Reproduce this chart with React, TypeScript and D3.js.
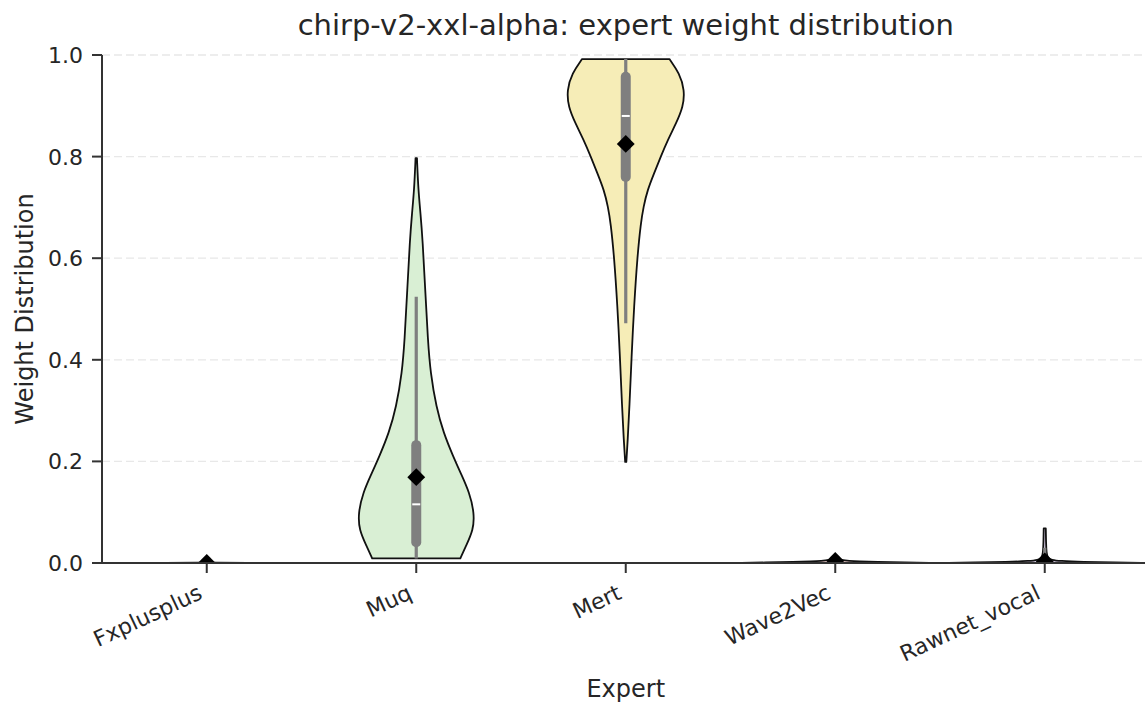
import React from 'react';
import * as d3 from 'd3';

const TITLE = 'chirp-v2-xxl-alpha: expert weight distribution';
const X_LABEL = 'Expert';
const Y_LABEL = 'Weight Distribution';
const EXPERTS = ['Fxplusplus', 'Muq', 'Mert', 'Wave2Vec', 'Rawnet_vocal'];
const Y_TICKS = [0, 0.2, 0.4, 0.6, 0.8, 1.0];
const FILLS = ['#cfe0f3', '#d9efd4', '#f6edb7', '#f8d5d3', '#e2d7ef'];

// violin outlines: [value, relative half-width]
const FXPLUSPLUS_PROFILE: [number, number][] = [
  [0, 1.7], [0.0004, 0.6], [0.0008, 0.1], [0.001, 0],
];
const MUQ_PROFILE: [number, number][] = [
  [0.009, 0.76], [0.032, 0.85], [0.065, 0.985], [0.098, 1.0], [0.138, 0.92],
  [0.177, 0.765], [0.209, 0.64], [0.256, 0.47], [0.307, 0.345], [0.374, 0.245],
  [0.439, 0.2], [0.537, 0.155], [0.636, 0.11], [0.69, 0.072], [0.734, 0.036], [0.797, 0.012],
];
const MERT_PROFILE: [number, number][] = [
  [0.199, 0.01], [0.242, 0.034], [0.308, 0.064], [0.406, 0.1], [0.505, 0.143],
  [0.603, 0.2], [0.669, 0.259], [0.701, 0.305], [0.734, 0.374], [0.767, 0.488],
  [0.8, 0.603], [0.833, 0.725], [0.866, 0.87], [0.898, 0.99], [0.931, 1.015],
  [0.964, 0.925], [0.992, 0.753],
];
const WAVE2VEC_PROFILE: [number, number][] = [
  [0, 1.7], [0.001, 1.2], [0.002, 0.7], [0.003, 0.4], [0.004, 0.24],
  [0.006, 0.1], [0.009, 0.03], [0.012, 0.005],
];
const RAWNET_PROFILE: [number, number][] = [
  [0, 1.75], [0.001, 1.2], [0.002, 0.65], [0.004, 0.25], [0.006, 0.12],
  [0.01, 0.05], [0.02, 0.03], [0.04, 0.022], [0.068, 0.018],
];
const PROFILES = [FXPLUSPLUS_PROFILE, MUQ_PROFILE, MERT_PROFILE, WAVE2VEC_PROFILE, RAWNET_PROFILE];

const WHISKER_LOW = [0, 0.009, 0.472, 0, 0];
const Q1 = [0, 0.041, 0.76, 0, 0];
const MEDIAN = [0, 0.1155, 0.88, 0.001, 0.001];
const Q3 = [0, 0.232, 0.957, 0.002, 0.002];
const WHISKER_HIGH = [0, 0.524, 0.992, 0.006, 0.03];
const MEAN = [0, 0.169, 0.825, 0.004, 0.003];

const W = 1145;
const H = 706;
const M = { left: 102, top: 55, bottom: 563 };
const STEP = 209.5;
const FONT = 'DejaVu Sans, sans-serif';
const TEXT = '#262626';

export default function App() {
  const x = d3.scaleBand<string>().domain(EXPERTS).range([M.left, M.left + STEP * EXPERTS.length]).padding(0);
  const y = d3.scaleLinear().domain([0, 1]).range([M.bottom, M.top]);
  const wScale = d3.scaleLinear().domain([0, 1]).range([0, x.bandwidth() * 0.277]);
  const cx = (e: string) => (x(e) as number) + x.bandwidth() / 2;

  const violinPath = (i: number) => {
    const c = cx(EXPERTS[i]);
    return d3
      .area<[number, number]>()
      .curve(d3.curveBasis)
      .y((d) => y(d[0]))
      .x0((d) => c - wScale(d[1]))
      .x1((d) => c + wScale(d[1]))(PROFILES[i]) as string;
  };

  const diamond = d3.symbol().type(d3.symbolSquare).size(160)() as string;

  return (
    <svg width={W} height={H} style={{ position: 'absolute', left: 0, top: 0, background: '#fff' }}
      fontFamily={FONT}>
      <defs>
        <clipPath id="plotclip">
          <rect x={M.left} y={M.top - 2} width={W - M.left} height={M.bottom - M.top + 2} />
        </clipPath>
      </defs>
      <rect x={0} y={0} width={W} height={H} fill="#fff" />
      {/* grid */}
      {Y_TICKS.filter((t) => t > 0).map((t) => (
        <line key={'g' + t} x1={M.left} x2={W} y1={y(t)} y2={y(t)} stroke="#e8e8e8"
          strokeWidth={1.3} strokeDasharray="8,4" />
      ))}
      <g clipPath="url(#plotclip)">
        {EXPERTS.map((e, i) => (
          <path key={'v' + e} d={violinPath(i)} fill={FILLS[i]} stroke="#111" strokeWidth={1.8}
            strokeLinejoin="round" />
        ))}
        {EXPERTS.map((e, i) => {
          const c = cx(e);
          return (
            <g key={'b' + e}>
              <line x1={c} x2={c} y1={y(WHISKER_LOW[i])} y2={y(WHISKER_HIGH[i])} stroke="#7f7f7f"
                strokeWidth={3.2} />
              {Q3[i] > Q1[i] && (
                <line x1={c} x2={c} y1={y(Q1[i])} y2={y(Q3[i])} stroke="#7f7f7f" strokeWidth={10}
                  strokeLinecap="round" />
              )}
              {Q3[i] - Q1[i] > 0.01 && (
                <line x1={c - 4} x2={c + 4} y1={y(MEDIAN[i])} y2={y(MEDIAN[i])} stroke="#fff"
                  strokeWidth={2} />
              )}
              <path d={diamond} transform={`translate(${c},${y(MEAN[i])}) rotate(45)`} fill="#000" />
            </g>
          );
        })}
      </g>
      {/* spines */}
      <line x1={M.left} x2={M.left} y1={M.top} y2={M.bottom} stroke="#333" strokeWidth={2} />
      <line x1={M.left} x2={W} y1={M.bottom} y2={M.bottom} stroke="#333" strokeWidth={2} />
      {/* y ticks */}
      {Y_TICKS.map((t) => (
        <g key={'yt' + t}>
          <line x1={M.left - 10} x2={M.left} y1={y(t)} y2={y(t)} stroke="#333" strokeWidth={2} />
          <text x={M.left - 19} y={y(t)} dy="0.36em" textAnchor="end" fontSize={22} fill={TEXT}>
            {d3.format('.1f')(t)}
          </text>
        </g>
      ))}
      {/* x ticks */}
      {EXPERTS.map((e) => {
        const c = cx(e);
        return (
          <g key={'xt' + e}>
            <line x1={c} x2={c} y1={M.bottom} y2={M.bottom + 10} stroke="#333" strokeWidth={2} />
            <text transform={`translate(${c - 3},${M.bottom + 35}) rotate(-25)`} textAnchor="end"
              fontSize={22} fill={TEXT}>
              {e}
            </text>
          </g>
        );
      })}
      <text x={(M.left + M.left + STEP * 5) / 2} y={697} textAnchor="middle" fontSize={24} fill={TEXT}>
        {X_LABEL}
      </text>
      <text transform={`translate(33,${(M.top + M.bottom) / 2}) rotate(-90)`} textAnchor="middle"
        fontSize={24} fill={TEXT}>
        {Y_LABEL}
      </text>
      <text x={(M.left + M.left + STEP * 5) / 2} y={35} textAnchor="middle" fontSize={29} fill={TEXT}>
        {TITLE}
      </text>
    </svg>
  );
}
